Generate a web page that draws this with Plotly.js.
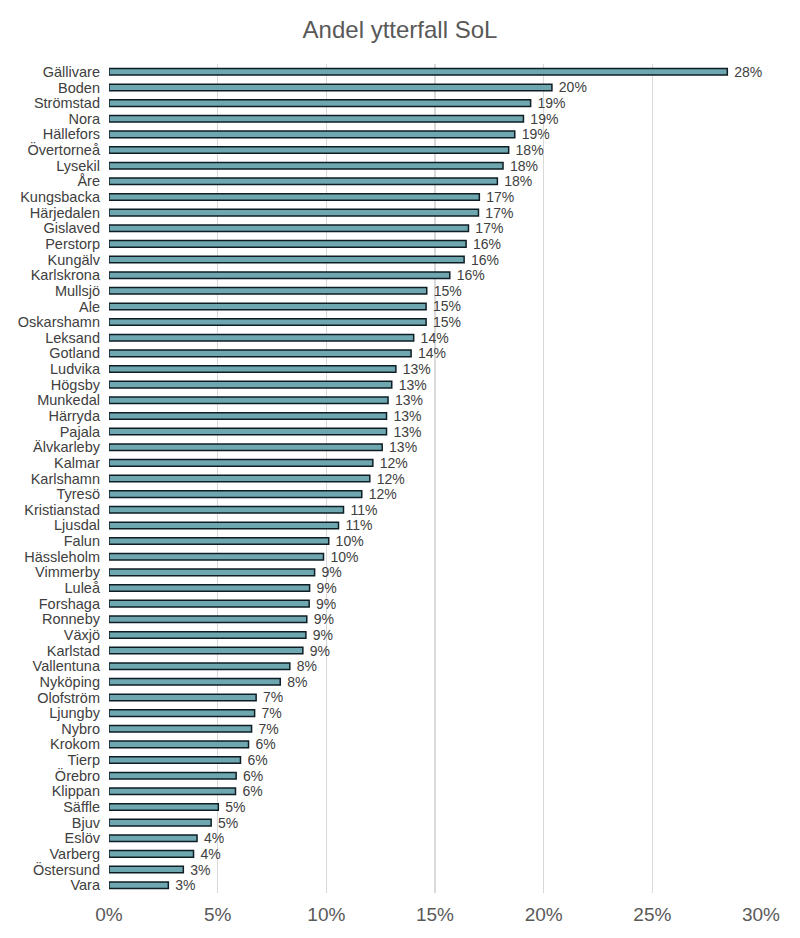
<!DOCTYPE html>
<html>
<head>
<meta charset="utf-8">
<script src="https://cdn.plot.ly/plotly-3.0.1.min.js"></script>
<style>html,body{margin:0;padding:0;background:#fff;}#chart{width:800px;height:938px;}</style>
</head>
<body>
<div id="chart"></div>
<script>
var kommuner = ["Gällivare","Boden","Strömstad","Nora","Hällefors","Övertorneå","Lysekil","Åre","Kungsbacka","Härjedalen","Gislaved","Perstorp","Kungälv","Karlskrona","Mullsjö","Ale","Oskarshamn","Leksand","Gotland","Ludvika","Högsby","Munkedal","Härryda","Pajala","Älvkarleby","Kalmar","Karlshamn","Tyresö","Kristianstad","Ljusdal","Falun","Hässleholm","Vimmerby","Luleå","Forshaga","Ronneby","Växjö","Karlstad","Vallentuna","Nyköping","Olofström","Ljungby","Nybro","Krokom","Tierp","Örebro","Klippan","Säffle","Bjuv","Eslöv","Varberg","Östersund","Vara"];
var andel = [0.2845,0.2038,0.1940,0.1907,0.1867,0.1839,0.1813,0.1787,0.1704,0.1700,0.1654,0.1643,0.1634,0.1568,0.1462,0.1459,0.1459,0.1402,0.1390,0.1320,0.1301,0.1284,0.1277,0.1277,0.1257,0.1214,0.1200,0.1163,0.1079,0.1056,0.1011,0.0987,0.0946,0.0923,0.0921,0.0910,0.0906,0.0892,0.0832,0.0788,0.0677,0.0670,0.0656,0.0642,0.0605,0.0585,0.0582,0.0503,0.0470,0.0405,0.0389,0.0342,0.0273];
var xTicks = [0,0.05,0.10,0.15,0.20,0.25,0.30];
var xTickLabels = ["0%","5%","10%","15%","20%","25%","30%"];
var titel = "Andel ytterfall SoL";

var trace = {
  type: "bar",
  orientation: "h",
  x: andel,
  y: kommuner,
  width: 0.42,
  marker: {color: "#6fa7b0", line: {color: "#0f1e25", width: 1.5}},
  texttemplate: "\u00a0%{x:.0%}",
  textposition: "outside",
  constraintext: "none",
  cliponaxis: false,
  textfont: {family: "Liberation Sans, Arial, sans-serif", size: 14, color: "#404040"},
  hoverinfo: "none"
};

var layout = {
  width: 800, height: 938,
  paper_bgcolor: "#ffffff", plot_bgcolor: "#ffffff",
  margin: {l: 109, r: 39, t: 64, b: 45},
  showlegend: false,
  font: {family: "Liberation Sans, Arial, sans-serif", color: "#404040"},
  title: {text: titel, x: 0.5, xanchor: "center", y: 0.977, yanchor: "top",
          font: {family: "Liberation Sans, Arial, sans-serif", size: 24, color: "#595959"}},
  xaxis: {
    range: [0, 0.30], tickvals: xTicks, ticktext: xTickLabels,
    showgrid: true, gridcolor: "#d9d9d9", gridwidth: 1.5,
    zeroline: false, showline: false, ticks: "",
    ticklabelstandoff: 8,
    tickfont: {size: 19, color: "#595959"}
  },
  yaxis: {
    type: "category", autorange: "reversed",
    tickmode: "array", tickvals: kommuner, ticktext: kommuner,
    showgrid: false, zeroline: false, showline: false, ticks: "",
    ticklabelstandoff: 8,
    tickfont: {size: 14.5, color: "#404040"}
  },
  bargap: 0.55
};

Plotly.newPlot("chart", [trace], layout, {displayModeBar: false, staticPlot: true});
</script>
</body>
</html>
